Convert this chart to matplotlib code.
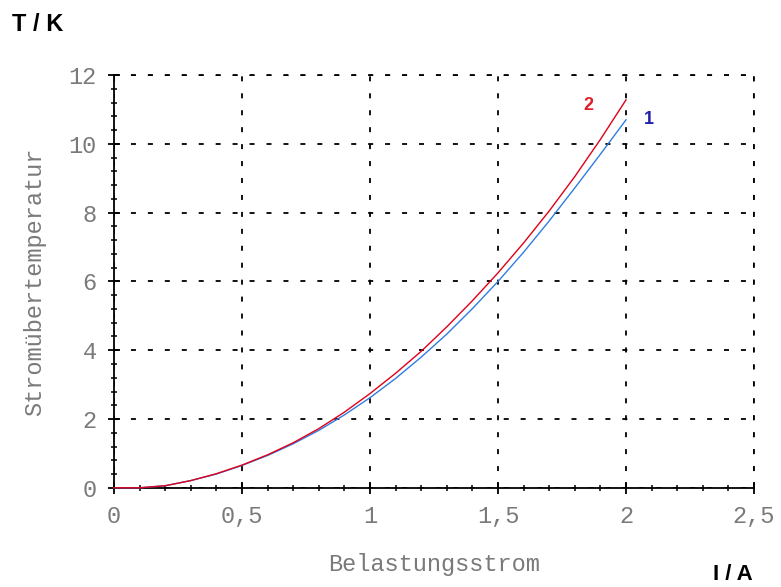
import numpy as np
import matplotlib.pyplot as plt
from matplotlib.ticker import MultipleLocator, FuncFormatter

# Belastungsstrom I / A
current = [0.0, 0.1, 0.2, 0.3, 0.4, 0.5, 0.6, 0.7, 0.8, 0.9, 1.0,
           1.1, 1.2, 1.3, 1.4, 1.5, 1.6, 1.7, 1.8, 1.9, 2.0]
# Stromuebertemperatur T / K
temp_1 = [0.0, 0.0, 0.06, 0.21, 0.40, 0.65, 0.94, 1.28, 1.67, 2.12, 2.62,
          3.18, 3.80, 4.47, 5.21, 6.00, 6.85, 7.76, 8.72, 9.70, 10.70]
temp_2 = [0.0, 0.0, 0.06, 0.21, 0.41, 0.66, 0.96, 1.31, 1.72, 2.20, 2.74,
          3.33, 3.97, 4.68, 5.44, 6.25, 7.12, 8.05, 9.05, 10.13, 11.28]

plt.rcParams['lines.scale_dashes'] = False
mono = 'Liberation Mono'
grey = '#7a7a7a'
dash = (0, (3.6, 8.6))

fig = plt.figure(figsize=(7.81, 5.87), dpi=100)
ax = fig.add_axes([0.146, 0.169, 0.8194, 0.703])

ax.plot(current, temp_1, color='#2f7de0', lw=1.0, zorder=3, clip_on=False)
ax.plot(current, temp_2, color='#e0001a', lw=1.0, zorder=4, clip_on=False)

ax.set_xlim(0, 2.5)
ax.set_ylim(0, 12)
ax.xaxis.set_major_locator(MultipleLocator(0.5))
ax.xaxis.set_minor_locator(MultipleLocator(0.1))
ax.yaxis.set_major_locator(MultipleLocator(2))
ax.yaxis.set_minor_locator(MultipleLocator(0.4))
ax.xaxis.set_major_formatter(FuncFormatter(lambda v, p: ('%g' % v).replace('.', ',')))
ax.yaxis.set_major_formatter(FuncFormatter(lambda v, p: '%g' % v))

for s in ['top', 'right']:
    ax.spines[s].set_visible(False)
for s in ['left', 'bottom']:
    ax.spines[s].set_linewidth(1.3)
    ax.spines[s].set_zorder(2)

ax.grid(True, which='major', color='black', lw=1.3, linestyle=dash)
ax.set_axisbelow(True)
ax.tick_params(which='major', direction='inout', length=9, width=1.3,
               labelsize=17, labelcolor=grey, pad=8)
ax.tick_params(which='minor', direction='inout', length=5, width=1.1)
for lab in ax.get_xticklabels() + ax.get_yticklabels():
    lab.set_fontfamily(mono)

ax.axhline(12, color='black', lw=1.3, linestyle=dash, clip_on=False)
ax.axvline(2.5, color='black', lw=1.3, linestyle=dash, clip_on=False)

ax.set_xlabel('Belastungsstrom', fontfamily=mono, fontsize=17, color=grey, labelpad=18)
ax.set_ylabel('Stromübertemperatur', fontfamily=mono, fontsize=17, color=grey, labelpad=16)

ax.text(1.855, 11.13, '2', color='#e0202a', fontsize=13, fontweight='bold',
        fontfamily='Liberation Sans', ha='center', va='center')
ax.text(2.09, 10.7, '1', color='#2020b0', fontsize=13, fontweight='bold',
        fontfamily='Liberation Sans', ha='center', va='center')

fig.text(0.015, 0.947, 'T / K', fontsize=17, fontweight='bold', fontfamily='Liberation Sans')
fig.text(0.913, 0.012, 'I / A', fontsize=16, fontweight='bold', fontfamily='Liberation Sans',
         va='baseline')

plt.savefig('out.png', dpi=100)
